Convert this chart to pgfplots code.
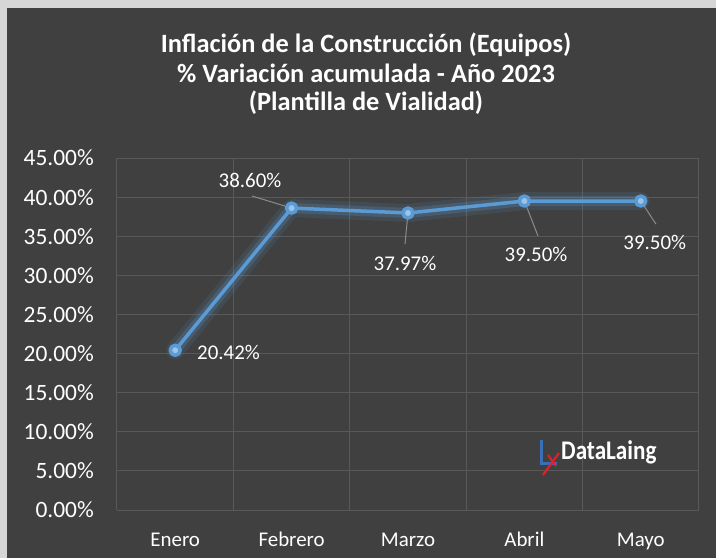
\documentclass[border=0pt]{standalone}
\usepackage{pgfplots}
\pgfplotsset{compat=1.18}
\usepackage{fontspec}
\setmainfont{Carlito}
\definecolor{bg}{HTML}{404040}
\definecolor{gridc}{HTML}{595959}
\definecolor{lineblue}{HTML}{5B9BD5}
\definecolor{markblue}{HTML}{9DC3E6}
\definecolor{lightc}{HTML}{D6D6D6}
\definecolor{leader}{HTML}{8C8C8C}
\definecolor{logoblue}{HTML}{3A6FB8}
\definecolor{logored}{HTML}{E0202A}
\begin{document}
\begin{tikzpicture}
\fill[lightc] (-117bp,-48bp) rectangle (599bp,510bp);
\fill[bg] (-110bp,-48bp) rectangle (599bp,502bp);
\useasboundingbox (-117bp,-48bp) rectangle (599bp,510bp);
\begin{axis}[
  at={(0,0)}, anchor=south west,
  scale only axis, width=582bp, height=352bp,
  xmin=-0.5, xmax=4.5, ymin=0, ymax=45,
  xtick={0,1,2,3,4},
  xticklabels={Enero,Febrero,Marzo,Abril,Mayo},
  minor xtick={-0.5,0.5,1.5,2.5,3.5,4.5},
  xminorgrids, ymajorgrids,
  ytick={0,5,10,15,20,25,30,35,40,45},
  yticklabels={0.00\%,5.00\%,10.00\%,15.00\%,20.00\%,25.00\%,30.00\%,35.00\%,40.00\%,45.00\%},
  major tick length=0pt, minor tick length=0pt,
  axis line style={draw=none},
  major grid style={gridc, line width=1bp},
  minor grid style={gridc, line width=1bp},
  yticklabel style={white, font=\fontsize{23.5}{26}\selectfont, anchor=east, inner sep=0pt, xshift=-23bp},
  xticklabel style={white, font=\fontsize{21}{24}\selectfont, anchor=base, inner sep=0pt, yshift=-36bp},
  clip=false,
]
\addplot[lineblue, opacity=0.12, line width=18bp, line join=round, line cap=round] coordinates {(0,20.42) (1,38.60) (2,37.97) (3,39.50) (4,39.50)};
\addplot[lineblue, opacity=0.22, line width=10bp, line join=round, line cap=round] coordinates {(0,20.42) (1,38.60) (2,37.97) (3,39.50) (4,39.50)};
\addplot[lineblue, line width=3.5bp, line join=round, mark=*, mark size=5bp, mark options={fill=markblue, draw=none}] coordinates {(0,20.42) (1,38.60) (2,37.97) (3,39.50) (4,39.50)};
% leader lines
\draw[leader, line width=1bp] (axis cs:1,38.60) -- (axis cs:0.66,40.14);
\draw[leader, line width=1bp] (axis cs:2,37.97) -- (axis cs:1.974,34.0);
\draw[leader, line width=1bp] (axis cs:3,39.50) -- (axis cs:3.117,35.03);
\draw[leader, line width=1bp] (axis cs:4,39.50) -- (axis cs:4.13,36.56);
% data labels
\begin{scope}[every node/.style={white, font=\fontsize{21}{24}\selectfont, inner sep=0pt}]
\node at (axis cs:0.643,42.19) {38.60\%};
\node[anchor=west] at (axis cs:0.187,20.2) {20.42\%};
\node at (axis cs:1.974,31.58) {37.97\%};
\node at (axis cs:3.10,32.73) {39.50\%};
\node at (axis cs:4.12,34.26) {39.50\%};
\end{scope}
\end{axis}
% title
\begin{scope}[every node/.style={white, font=\fontsize{26.5}{28}\bfseries\selectfont, inner sep=0pt, anchor=base}]
\node at (249bp,457bp) {Inflación de la Construcción (Equipos)};
\node at (249bp,427bp) {\% Variación acumulada - Año 2023};
\node at (249bp,399bp) {(Plantilla de Vialidad)};
\end{scope}
% logo
\draw[logoblue, line width=3.5bp] (424.5bp,70bp) -- (424.5bp,46.5bp) -- (440bp,46.5bp);
\draw[logored, line width=2.2bp] (442bp,57bp) -- (426bp,35bp);
\draw[logored, line width=2bp] (431bp,55bp) -- (439bp,44bp);
\node[white, anchor=west, inner sep=0pt, font=\fontsize{27}{28}\bfseries\selectfont, xscale=0.86] at (444bp,58bp) {DataLaing};
\end{tikzpicture}
\end{document}
